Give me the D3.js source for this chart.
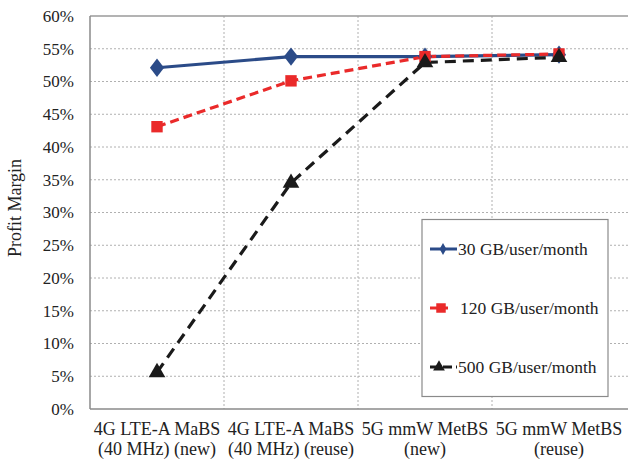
<!DOCTYPE html>
<html>
<head>
<meta charset="utf-8">
<script src="https://cdn.jsdelivr.net/npm/d3@7"></script>
<style>
  body { margin: 0; background: #fff; }
  svg { display: block; font-family: "Liberation Serif", "Times New Roman", serif; }
</style>
</head>
<body>
<div id="chart"></div>
<script>
// categories (two lines each) and series values
var categories = ["4G LTE-A MaBS|(40 MHz) (new)", "4G LTE-A MaBS|(40 MHz) (reuse)", "5G mmW MetBS|(new)", "5G mmW MetBS|(reuse)"];
var gb30 = [0.521, 0.538, 0.538, 0.541];
var gb120 = [0.431, 0.501, 0.538, 0.542];
var gb500 = [0.056, 0.345, 0.529, 0.537];
var seriesNames = ["30 GB/user/month", "120 GB/user/month", "500 GB/user/month"];
var yTicks = [0, 0.05, 0.1, 0.15, 0.2, 0.25, 0.3, 0.35, 0.4, 0.45, 0.5, 0.55, 0.6];

var W = 628, H = 459;
var margin = {top: 16, right: 2, bottom: 50, left: 90},
    width = W - margin.left - margin.right,
    height = H - margin.top - margin.bottom;

var svg = d3.select("#chart")
  .append("svg")
    .attr("width", W)
    .attr("height", H);

var g = svg.append("g")
    .attr("transform", "translate(" + margin.left + "," + margin.top + ")");

var x = d3.scaleBand()
    .domain(categories)
    .range([0, 536])
    .padding(0);

var y = d3.scaleLinear()
    .domain([0, 0.6])
    .range([height, 0]);

// grid
g.append("g")
  .selectAll("line")
  .data(yTicks.slice(1, -1))
  .join("line")
    .attr("x1", 0).attr("x2", width + 5)
    .attr("y1", d => y(d)).attr("y2", d => y(d))
    .attr("stroke", "#b0b0b0")
    .attr("stroke-dasharray", "2,2");

g.append("g")
  .selectAll("line")
  .data(categories.slice(1))
  .join("line")
    .attr("x1", d => x(d)).attr("x2", d => x(d))
    .attr("y1", 0).attr("y2", height)
    .attr("stroke", "#b0b0b0")
    .attr("stroke-dasharray", "2,2");

// frame: top, left, bottom
g.append("line").attr("x1", 0).attr("x2", width + 5).attr("y1", 0).attr("y2", 0)
  .attr("stroke", "#9a9a9a").attr("stroke-width", 1.5);
g.append("line").attr("x1", 0).attr("x2", 0).attr("y1", 0).attr("y2", height)
  .attr("stroke", "#8a8a8a").attr("stroke-width", 1.5);
g.append("line").attr("x1", 0).attr("x2", width + 5).attr("y1", height).attr("y2", height)
  .attr("stroke", "#8a8a8a").attr("stroke-width", 1.5);

// y tick labels
var yAxis = g.append("g")
  .call(d3.axisLeft(y).tickValues(yTicks).tickFormat(d3.format(".0%")).tickSize(0).tickPadding(16));
yAxis.attr("font-family", null);
yAxis.select(".domain").remove();
yAxis.selectAll("text")
  .style("font-family", "'Liberation Serif'")
  .style("font-size", "17px")
  .attr("fill", "#222");

// x tick labels (two lines)
var xAxis = g.append("g")
  .attr("transform", "translate(0," + height + ")")
  .call(d3.axisBottom(x).tickSize(0).tickFormat(""));
xAxis.attr("font-family", null);
xAxis.select(".domain").remove();
xAxis.selectAll(".tick").each(function(d) {
  var parts = d.split("|");
  var t = d3.select(this).append("text")
    .attr("text-anchor", "middle")
    .attr("fill", "#222")
    .style("font-family", "'Liberation Serif'")
    .style("font-size", "18px");
  t.append("tspan").attr("x", 0).attr("y", 26).text(parts[0]);
  t.append("tspan").attr("x", 0).attr("y", 46).text(parts[1]);
});

// y axis title
svg.append("text")
  .attr("transform", "translate(21,208) rotate(-90)")
  .attr("text-anchor", "middle")
  .attr("fill", "#222")
  .style("font-size", "18px")
  .text("Profit Margin");

var cx = d => x(d) + x.bandwidth() / 2;
var series = [
  {name: seriesNames[0], values: gb30, color: "#2b4b88", dash: null, shape: d3.symbolDiamond, size: 120},
  {name: seriesNames[1], values: gb120, color: "#ea2a2a", dash: "9,5", shape: d3.symbolSquare, size: 130},
  {name: seriesNames[2], values: gb500, color: "#1a1a1a", dash: "11,7", shape: d3.symbolTriangle, size: 120}
];

var line = d3.line()
  .x((d, i) => cx(categories[i]))
  .y(d => y(d));

series.forEach(function(s) {
  g.append("path")
    .datum(s.values)
    .attr("fill", "none")
    .attr("stroke", s.color)
    .attr("stroke-width", 3.2)
    .attr("stroke-dasharray", s.dash)
    .attr("d", line);
});
series.forEach(function(s) {
  g.selectAll(null)
    .data(s.values)
    .join("path")
      .attr("transform", (d, i) => "translate(" + cx(categories[i]) + "," + y(d) + ")" + (s.shape === d3.symbolDiamond ? " scale(1.2,0.9)" : ""))
      .attr("d", d3.symbol().type(s.shape).size(s.size))
      .attr("fill", s.color);
});

// legend
var lg = svg.append("g");
lg.append("rect")
  .attr("x", 422).attr("y", 219.5)
  .attr("width", 186).attr("height", 177)
  .attr("fill", "#fff")
  .attr("stroke", "#8a8a8a")
  .attr("stroke-width", 1.2);

var legendY = [249, 308, 367];
series.forEach(function(s, i) {
  var ly = legendY[i];
  lg.append("line")
    .attr("x1", 430).attr("x2", i === 1 ? 448 : 457)
    .attr("y1", ly).attr("y2", ly)
    .attr("stroke", s.color)
    .attr("stroke-width", 3)
    .attr("stroke-dasharray", i === 2 ? "9,4" : null);
  lg.append("path")
    .attr("transform", "translate(" + (i === 0 ? 443 : i === 1 ? 441 : 439) + "," + ly + ")")
    .attr("d", d3.symbol().type(s.shape).size(i === 0 ? 40 : i === 1 ? 90 : 60))
    .attr("fill", s.color);
  lg.append("text")
    .attr("x", i === 1 ? 460 : 458)
    .attr("y", ly + 6)
    .attr("fill", "#222")
    .style("font-size", "17.5px")
    .text(s.name);
});
</script>
</body>
</html>
